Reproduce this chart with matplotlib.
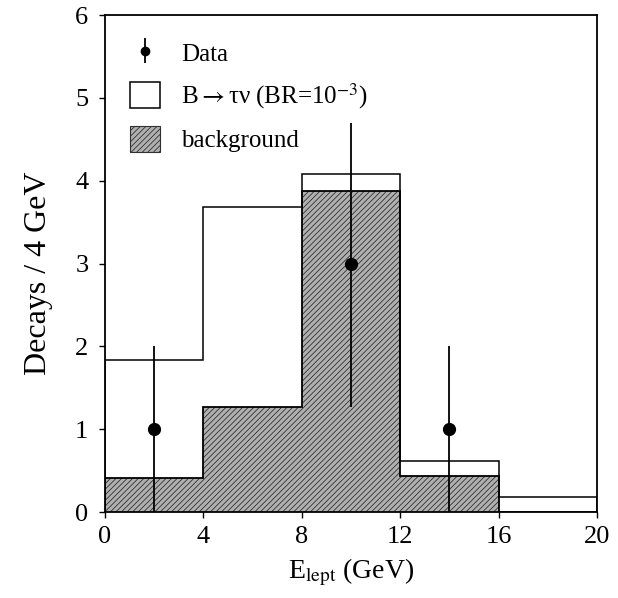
import matplotlib
matplotlib.use("Agg")
import matplotlib.pyplot as plt
from matplotlib.patches import Patch
import numpy as np

plt.rcParams['font.family'] = ['Liberation Serif', 'DejaVu Serif']
plt.rcParams['mathtext.fontset'] = 'stix'
plt.rcParams['hatch.linewidth'] = 0.6

edges = [0, 4, 8, 12, 16, 20]
total = [1.83, 3.68, 4.08, 0.62, 0.18]        # signal + background
background = [0.41, 1.27, 3.87, 0.43, 0.0]
data_x = [2, 10, 14]
data_y = [1, 3, 1]
err_lo = [1.0, 1.73, 1.0]
err_hi = [1.0, 1.70, 1.0]

fig = plt.figure(figsize=(6.18, 5.98), dpi=100)
ax = fig.add_axes([0.170, 0.1438, 0.796, 0.831])

ax.stairs(background, edges, fill=True, facecolor='#b0b0b0', edgecolor='#303030',
          hatch='//////', linewidth=0)
ax.stairs(background, edges, fill=False, color='black', linewidth=1.3)
ax.stairs(total, edges, fill=False, color='black', linewidth=1.1, baseline=0)
ax.errorbar(data_x, data_y, yerr=[err_lo, err_hi], fmt='o', color='black',
            markersize=8.5, elinewidth=1.3, capsize=0)

ax.set_xlim(0, 20)
ax.set_ylim(0, 6)
ax.set_xticks([0, 4, 8, 12, 16, 20])
ax.set_yticks([0, 1, 2, 3, 4, 5, 6])
ax.tick_params(direction='out', length=4, width=1, labelsize=19)
ax.tick_params(axis='x', pad=6)
ax.tick_params(axis='y', pad=8)
for s in ax.spines.values():
    s.set_linewidth(1.3)

ax.set_xlabel(r'E$_{\rm lept}$ (GeV)', fontsize=20, labelpad=6)
ax.set_ylabel('Decays / 4 GeV', fontsize=23)
ax.yaxis.set_label_coords(-0.105, 0.48)

h_data = ax.errorbar([], [], yerr=[], fmt='o', color='black', markersize=6,
                     elinewidth=1.3, capsize=0)
h_sig = Patch(facecolor='white', edgecolor='black', linewidth=1.1)
h_bkg = Patch(facecolor='#b0b0b0', edgecolor='#303030', hatch='//////', linewidth=0.8)
leg = ax.legend([h_data, h_sig, h_bkg],
                ['Data', r'B$\rightarrow$τν (BR=10$^{-3}$)', 'background'],
                loc='upper left', frameon=False, fontsize=18,
                handlelength=1.2, handleheight=1.2, handletextpad=0.85,
                labelspacing=0.6, borderaxespad=0.5, borderpad=0.5)

fig.savefig('out.png', dpi=100)
